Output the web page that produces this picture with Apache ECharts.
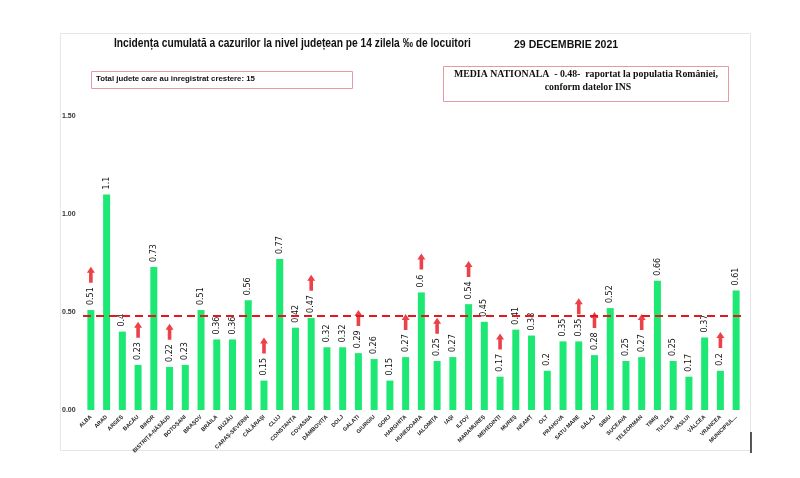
<!DOCTYPE html>
<html><head><meta charset="utf-8">
<script src="https://cdn.jsdelivr.net/npm/echarts@6/dist/echarts.min.js"></script>
<style>html,body{margin:0;padding:0;background:#fff}#c{width:800px;height:478px}</style>
</head><body><div id="c"></div>
<script>
const counties = ['ALBA','ARAD','ARGEȘ','BACĂU','BIHOR','BISTRIȚA-NĂSĂUD','BOTOȘANI','BRAȘOV','BRĂILA','BUZĂU','CARAȘ-SEVERIN','CĂLĂRAȘI','CLUJ','CONSTANȚA','COVASNA','DÂMBOVIȚA','DOLJ','GALAȚI','GIURGIU','GORJ','HARGHITA','HUNEDOARA','IALOMIȚA','IAȘI','ILFOV','MARAMUREȘ','MEHEDINȚI','MUREȘ','NEAMȚ','OLT','PRAHOVA','SATU MARE','SĂLAJ','SIBIU','SUCEAVA','TELEORMAN','TIMIȘ','TULCEA','VASLUI','VÂLCEA','VRANCEA','MUNICIPIUL BUCUREȘTI'];
const incidence = [0.51,1.1,0.4,0.23,0.73,0.22,0.23,0.51,0.36,0.36,0.56,0.15,0.77,0.42,0.47,0.32,0.32,0.29,0.26,0.15,0.27,0.6,0.25,0.27,0.54,0.45,0.17,0.41,0.38,0.2,0.35,0.35,0.28,0.52,0.25,0.27,0.66,0.25,0.17,0.37,0.2,0.61];
const increased = [1,0,0,1,0,1,0,0,0,0,0,1,0,0,1,0,0,1,0,0,1,1,1,0,1,0,1,0,0,0,0,1,1,0,0,1,0,0,0,0,1,0];
const nationalAverage = 0.48;
const yTicks = [0, 0.5, 1.0, 1.5];
const titleText = 'Incidența cumulată a cazurilor la nivel județean pe 14 zilela ‰ de locuitori';
const dateText = '29 DECEMBRIE 2021';
const totalText = 'Total judete care au inregistrat crestere: 15';
const mediaLine1 = 'MEDIA NATIONALA  - 0.48-  raportat la populatia României,';
const mediaLine2 = 'conform datelor INS';

const arrowData = [];
incidence.forEach((v, i) => {
  if (increased[i]) {
    const len = String(v).length;
    arrowData.push({ value: [i, v], symbolOffset: [0, -(18 + len * 4.3)] });
  }
});

const chart = echarts.init(document.getElementById('c'), null, { renderer: 'canvas' });
const sans = "'Liberation Sans',Arial,sans-serif";
chart.setOption({
  animation: false,
  backgroundColor: '#ffffff',
  grid: { left: 83, right: 56, top: 116, bottom: 68, containLabel: false },
  graphic: [
    { type: 'rect', shape: { x: 60.5, y: 33.5, width: 690, height: 417 }, style: { fill: 'none', stroke: '#e6e6e6', lineWidth: 1 }, z: -1 },
    { type: 'line', shape: { x1: 751, y1: 432, x2: 751, y2: 453 }, style: { stroke: '#222', lineWidth: 1.5 } },
    { type: 'text', x: 114, y: 38, scaleX: 0.852, style: { text: titleText, font: "bold 12px " + sans, fill: '#111' } },
    { type: 'text', x: 514, y: 39, scaleX: 0.915, style: { text: dateText, font: "bold 11.5px " + sans, fill: '#111' } },
    { type: 'rect', shape: { x: 91.5, y: 71.5, width: 261, height: 17 }, style: { fill: '#fff', stroke: '#e79aa4', lineWidth: 1 } },
    { type: 'text', x: 96, y: 75, style: { text: totalText, font: "bold 7.8px " + sans, fill: '#111' } },
    { type: 'rect', shape: { x: 443.5, y: 66.5, width: 285, height: 35 }, style: { fill: '#fff', stroke: '#e79aa4', lineWidth: 1 } },
    { type: 'text', x: 586, y: 69, style: { text: mediaLine1, font: "bold 9.8px 'Liberation Serif',serif", fill: '#111', align: 'center' } },
    { type: 'text', x: 588, y: 82, style: { text: mediaLine2, font: "bold 9.8px 'Liberation Serif',serif", fill: '#111', align: 'center' } }
  ],
  xAxis: {
    type: 'category',
    data: counties,
    axisLine: { show: false },
    axisTick: { show: false },
    axisLabel: {
      interval: 0, rotate: 45, fontSize: 5.5, fontWeight: 'bold', color: '#222', margin: 6,
      fontFamily: sans,
      formatter: v => v.length > 15 && v.indexOf('MUNICIPIUL') === 0 ? 'MUNICIPIUL...' : v
    }
  },
  yAxis: {
    type: 'value', min: 0, max: 1.5, interval: 0.5,
    axisLine: { show: false }, axisTick: { show: false }, splitLine: { show: false },
    axisLabel: { fontSize: 7, fontWeight: 'bold', color: '#333', align: 'left', margin: 21, formatter: v => v.toFixed(2) }
  },
  series: [
    {
      type: 'bar', data: incidence, barWidth: 7,
      itemStyle: { color: '#1ee874' },
      label: { show: true, position: 'top', rotate: 90, align: 'left', verticalAlign: 'middle', distance: 5, fontSize: 8, color: '#111', fontFamily: "'DejaVu Sans',sans-serif" },
      markLine: {
        silent: true, symbol: 'none', label: { show: false },
        lineStyle: { color: '#e0191e', width: 2, type: [8, 5] },
        data: [{ yAxis: nationalAverage }]
      },
      z: 2
    },
    {
      type: 'scatter', data: arrowData,
      symbol: 'path://M4,0 L8,6 L5.8,6 L5.8,16 L2.2,16 L2.2,6 L0,6 Z',
      symbolSize: [8, 16],
      itemStyle: { color: '#e6111a' },
      z: 3
    }
  ]
});
</script></body></html>
